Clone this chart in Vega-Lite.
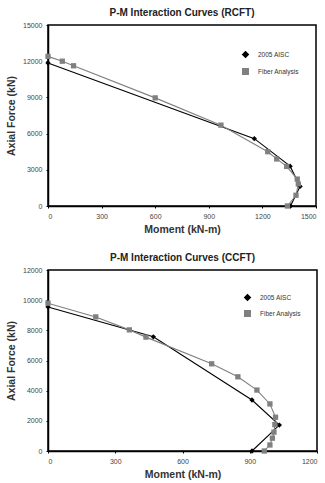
{
  "$schema": "https://vega.github.io/schema/vega-lite/v6.json",
  "background": "#ffffff",
  "padding": {"left": 5, "top": 7, "right": 0, "bottom": 0},
  "spacing": 16,
  "config": {
    "font": "Liberation Sans",
    "view": {"stroke": "#000000", "strokeWidth": 1.5},
    "axis": {
      "grid": false,
      "format": "d",
      "domainColor": "#000000",
      "domainWidth": 1.5,
      "tickColor": "#000000",
      "tickSize": 2,
      "labelFontSize": 7,
      "labelColor": "#444444",
      "titleFontSize": 10.5,
      "titleFontWeight": "bold",
      "titleColor": "#333333"
    },
    "title": {"fontSize": 10, "fontWeight": "bold", "color": "#222222", "offset": 3},
    "legend": {
      "orient": "none",
      "title": null,
      "labelFontSize": 6.5,
      "labelColor": "#333333",
      "rowPadding": 4,
      "labelOffset": 9
    }
  },
  "datasets": {
    "rcft": [
      {"series": "2005 AISC", "ord": 1, "m": 0, "p": 11850},
      {"series": "2005 AISC", "ord": 2, "m": 1155, "p": 5580},
      {"series": "2005 AISC", "ord": 3, "m": 1355, "p": 3300},
      {"series": "2005 AISC", "ord": 4, "m": 1411, "p": 1620},
      {"series": "2005 AISC", "ord": 5, "m": 1357, "p": 0},
      {"series": "Fiber Analysis", "ord": 1, "m": 0, "p": 12400},
      {"series": "Fiber Analysis", "ord": 2, "m": 80, "p": 12000},
      {"series": "Fiber Analysis", "ord": 3, "m": 143, "p": 11620},
      {"series": "Fiber Analysis", "ord": 4, "m": 600, "p": 8960},
      {"series": "Fiber Analysis", "ord": 5, "m": 968, "p": 6700},
      {"series": "Fiber Analysis", "ord": 6, "m": 1230, "p": 4500},
      {"series": "Fiber Analysis", "ord": 7, "m": 1280, "p": 3900},
      {"series": "Fiber Analysis", "ord": 8, "m": 1336, "p": 3280},
      {"series": "Fiber Analysis", "ord": 9, "m": 1395, "p": 2230},
      {"series": "Fiber Analysis", "ord": 10, "m": 1401, "p": 1830},
      {"series": "Fiber Analysis", "ord": 11, "m": 1388, "p": 890},
      {"series": "Fiber Analysis", "ord": 12, "m": 1340, "p": 0}
    ],
    "ccft": [
      {"series": "2005 AISC", "ord": 1, "m": 0, "p": 9550},
      {"series": "2005 AISC", "ord": 2, "m": 470, "p": 7570},
      {"series": "2005 AISC", "ord": 3, "m": 910, "p": 3380},
      {"series": "2005 AISC", "ord": 4, "m": 1032, "p": 1720},
      {"series": "2005 AISC", "ord": 5, "m": 910, "p": 0},
      {"series": "Fiber Analysis", "ord": 1, "m": 0, "p": 9800},
      {"series": "Fiber Analysis", "ord": 2, "m": 213, "p": 8890},
      {"series": "Fiber Analysis", "ord": 3, "m": 363, "p": 8030},
      {"series": "Fiber Analysis", "ord": 4, "m": 437, "p": 7550},
      {"series": "Fiber Analysis", "ord": 5, "m": 730, "p": 5780},
      {"series": "Fiber Analysis", "ord": 6, "m": 847, "p": 4920},
      {"series": "Fiber Analysis", "ord": 7, "m": 932, "p": 4040},
      {"series": "Fiber Analysis", "ord": 8, "m": 990, "p": 3120},
      {"series": "Fiber Analysis", "ord": 9, "m": 1015, "p": 2240},
      {"series": "Fiber Analysis", "ord": 10, "m": 1012, "p": 1750},
      {"series": "Fiber Analysis", "ord": 11, "m": 1008, "p": 1250},
      {"series": "Fiber Analysis", "ord": 12, "m": 1001, "p": 850},
      {"series": "Fiber Analysis", "ord": 13, "m": 990, "p": 400},
      {"series": "Fiber Analysis", "ord": 14, "m": 965, "p": 0}
    ]
  },
  "resolve": {
    "scale": {"x": "independent", "y": "independent", "color": "independent", "shape": "independent"},
    "legend": {"color": "independent", "shape": "independent"}
  },
  "vconcat": [
    {
      "title": "P-M Interaction Curves (RCFT)",
      "width": 268,
      "height": 181,
      "data": {"name": "rcft"},
      "encoding": {
        "x": {"field": "m", "type": "quantitative", "title": "Moment (kN-m)",
              "scale": {"domain": [0, 1500], "nice": false},
              "axis": {"values": [0, 300, 600, 900, 1200, 1500], "labelPadding": 4, "titlePadding": 5}},
        "y": {"field": "p", "type": "quantitative", "title": "Axial Force (kN)",
              "scale": {"domain": [0, 15000], "nice": false},
              "axis": {"values": [0, 3000, 6000, 9000, 12000, 15000], "labelPadding": 4, "titlePadding": 6}},
        "color": {"field": "series", "type": "nominal",
                  "scale": {"domain": ["2005 AISC", "Fiber Analysis"], "range": ["#000000", "#808080"]},
                  "legend": {"legendX": 194, "legendY": 26, "symbolSize": 30}},
        "order": {"field": "ord", "type": "quantitative"}
      },
      "layer": [
        {"mark": {"type": "line", "strokeWidth": 1.1}},
        {"mark": {"type": "point", "filled": true, "opacity": 1, "size": 28},
         "encoding": {"shape": {"field": "series", "type": "nominal",
           "scale": {"domain": ["2005 AISC", "Fiber Analysis"], "range": ["diamond", "square"]}, "legend": null}}}
      ]
    },
    {
      "title": "P-M Interaction Curves (CCFT)",
      "width": 269,
      "height": 181,
      "data": {"name": "ccft"},
      "encoding": {
        "x": {"field": "m", "type": "quantitative", "title": "Moment (kN-m)",
              "scale": {"domain": [0, 1200], "nice": false},
              "axis": {"values": [0, 300, 600, 900, 1200], "labelPadding": 4, "titlePadding": 5}},
        "y": {"field": "p", "type": "quantitative", "title": "Axial Force (kN)",
              "scale": {"domain": [0, 12000], "nice": false},
              "axis": {"values": [0, 2000, 4000, 6000, 8000, 10000, 12000], "labelPadding": 4, "titlePadding": 6}},
        "color": {"field": "series", "type": "nominal",
                  "scale": {"domain": ["2005 AISC", "Fiber Analysis"], "range": ["#000000", "#808080"]},
                  "legend": {"legendX": 196, "legendY": 24, "rowPadding": 3, "symbolSize": 30}},
        "order": {"field": "ord", "type": "quantitative"}
      },
      "layer": [
        {"mark": {"type": "line", "strokeWidth": 1.1}},
        {"mark": {"type": "point", "filled": true, "opacity": 1, "size": 28},
         "encoding": {"shape": {"field": "series", "type": "nominal",
           "scale": {"domain": ["2005 AISC", "Fiber Analysis"], "range": ["diamond", "square"]}, "legend": null}}}
      ]
    }
  ]
}
